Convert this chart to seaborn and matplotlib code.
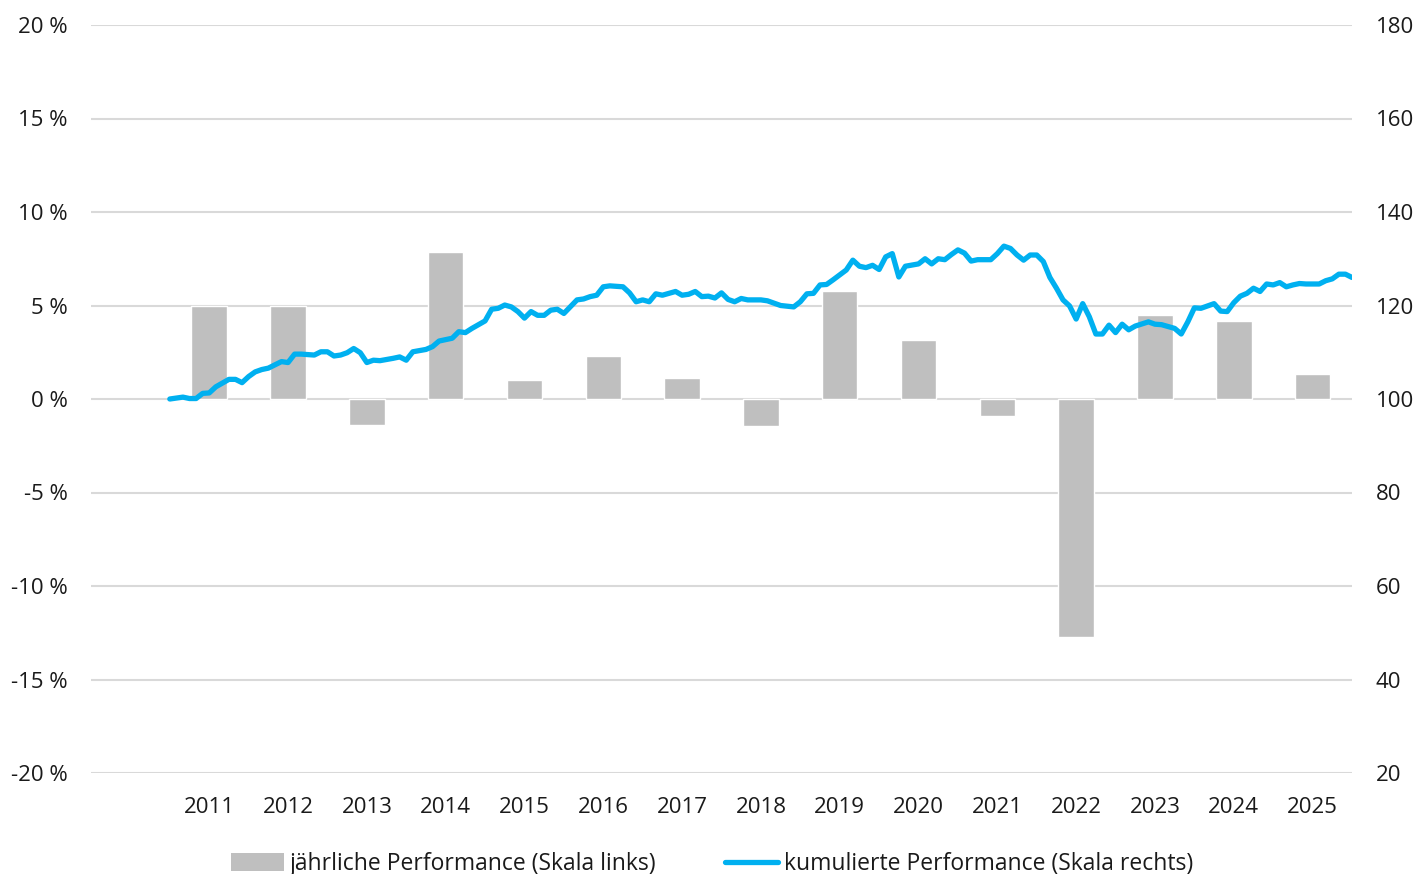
import matplotlib
matplotlib.use("Agg")
import matplotlib.pyplot as plt
import numpy as np
import pandas as pd
import seaborn as sns
from matplotlib.lines import Line2D
from matplotlib.patches import Patch

years = ["2011", "2012", "2013", "2014", "2015", "2016", "2017", "2018",
         "2019", "2020", "2021", "2022", "2023", "2024", "2025"]
annual_perf = [5.0, 5.0, -1.4, 7.85, 1.0, 2.3, 1.1, -1.45,
               5.75, 3.15, -0.9, -12.75, 4.5, 4.15, 1.35]

# months since end of 2010
months = [0, 2, 3, 4, 5, 6, 7, 9, 10, 11, 12, 13, 14, 15, 16, 17, 18, 19, 20,
          22, 23, 24, 25, 26, 27, 28, 29, 30, 31, 32, 34, 35, 36, 37, 39, 40,
          41, 43, 44, 45, 46, 48, 49, 50, 51, 52, 53, 54, 55, 56, 57, 58, 59,
          60, 62, 63, 64, 65, 66, 67, 69, 70, 71, 72, 73, 74, 75, 76, 77, 78,
          79, 80, 81, 82, 83, 84, 85, 86, 87, 88, 90, 91, 93, 95, 96, 97, 98,
          99, 100, 101, 103, 104, 105, 106, 107, 108, 109, 110, 111, 112, 114,
          115, 116, 117, 118, 119, 120, 121, 122, 123, 125, 126, 127, 128, 129,
          130, 131, 132, 133, 134, 135, 136, 137, 138, 139, 140, 141, 142, 143,
          144, 145, 146, 147, 149, 150, 151, 153, 154, 155, 156, 157, 159, 160,
          161, 162, 163, 164, 165, 166, 167, 168, 169, 170, 171, 172, 173, 175,
          176, 177, 178, 179, 180]
cum_perf = [100.0, 100.4, 100.1, 100.1, 101.2, 101.3, 102.6, 104.2, 104.2,
            103.5, 104.8, 105.8, 106.3, 106.6, 107.3, 108.0, 107.8, 109.6,
            109.6, 109.4, 110.1, 110.1, 109.2, 109.4, 109.9, 110.8, 109.9,
            107.8, 108.3, 108.2, 108.7, 109.0, 108.3, 110.1, 110.6, 111.2,
            112.4, 113.0, 114.4, 114.2, 115.1, 116.7, 119.2, 119.4, 120.1,
            119.7, 118.7, 117.3, 118.7, 117.9, 117.9, 119.0, 119.2, 118.3,
            121.2, 121.4, 121.9, 122.2, 124.0, 124.2, 124.0, 122.7, 120.8,
            121.2, 120.8, 122.5, 122.2, 122.6, 123.0, 122.2, 122.4, 123.0,
            121.9, 122.0, 121.6, 122.7, 121.3, 120.8, 121.5, 121.2, 121.2,
            121.0, 120.0, 119.7, 120.8, 122.5, 122.6, 124.4, 124.5, 125.5,
            127.6, 129.7, 128.4, 128.1, 128.6, 127.7, 130.4, 131.1, 126.1,
            128.4, 128.9, 130.0, 128.9, 130.0, 129.8, 130.9, 131.9, 131.2,
            129.5, 129.8, 129.8, 131.1, 132.7, 132.2, 130.8, 129.7, 130.8,
            130.8, 129.4, 126.0, 123.7, 121.2, 119.9, 117.1, 120.4, 117.6,
            113.9, 113.9, 115.8, 114.2, 116.0, 114.8, 115.6, 116.5, 116.0,
            115.9, 115.1, 113.9, 116.5, 119.5, 119.4, 120.4, 118.8, 118.7,
            120.6, 122.0, 122.6, 123.7, 123.0, 124.6, 124.4, 124.9, 124.0,
            124.4, 124.7, 124.6, 124.6, 125.3, 125.7, 126.7, 126.7, 126.0]

left_ticks = [-20, -15, -10, -5, 0, 5, 10, 15, 20]
right_ticks = [20, 40, 60, 80, 100, 120, 140, 160, 180]

BAR_COLOR = "#bfbfbf"
LINE_COLOR = "#00b0f0"
GRID_COLOR = "#d9d9d9"
TEXT_COLOR = "#1a1a1a"
FS = 16
LW = 3.8

sns.set_theme(style="white")
plt.rcParams["font.family"] = ["Open Sans", "DejaVu Sans"]
plt.rcParams["font.size"] = FS

fig = plt.figure(figsize=(14.13, 8.74), dpi=100)
ax = fig.add_axes([91 / 1413, 1 - 773 / 874, (1352 - 91) / 1413, (773 - 25) / 874])

bars = pd.DataFrame({"year": years, "perf": annual_perf})
sns.barplot(data=bars, x="year", y="perf", color=BAR_COLOR, width=0.45,
            saturation=1, ax=ax, zorder=2)

ax.set_ylim(-20, 20)
ax.set_yticks(left_ticks)
ax.set_yticklabels([f"{t} %" for t in left_ticks])
ax.yaxis.grid(True, color=GRID_COLOR, linewidth=1.5, zorder=0)
ax.set_axisbelow(True)
ax.set_xlabel("")
ax.set_ylabel("")

ax2 = ax.twinx()
line = pd.DataFrame({"x": [m / 12 - 0.5 for m in months], "y": cum_perf})
sns.lineplot(data=line, x="x", y="y", color=LINE_COLOR, linewidth=LW, ax=ax2,
             solid_joinstyle="round", solid_capstyle="round")
ax2.set_ylim(20, 180)
ax2.set_yticks(right_ticks)
ax2.set_yticklabels([str(t) for t in right_ticks])
ax2.set_xlabel("")
ax2.set_ylabel("")
ax.set_xlim(-1.5, 14.5)

for a in (ax, ax2):
    for s in a.spines.values():
        s.set_visible(False)
    a.tick_params(length=0, labelsize=FS, labelcolor=TEXT_COLOR)
ax.tick_params(axis="y", pad=17)
ax2.tick_params(axis="y", pad=17)
ax.tick_params(axis="x", pad=17)

handles = [
    Patch(facecolor=BAR_COLOR, edgecolor="none"),
    Line2D([0], [0], color=LINE_COLOR, linewidth=LW),
]
labels = ["jährliche Performance (Skala links)", "kumulierte Performance (Skala rechts)"]
fig.legend(handles, labels, loc="center", bbox_to_anchor=(712 / 1413, 1 - 864 / 874),
           ncol=2, frameon=False, fontsize=16.5, handlelength=2.3, handleheight=0.8,
           handletextpad=0.25, columnspacing=3.0, labelcolor=TEXT_COLOR)

fig.savefig("out.png", dpi=100)
